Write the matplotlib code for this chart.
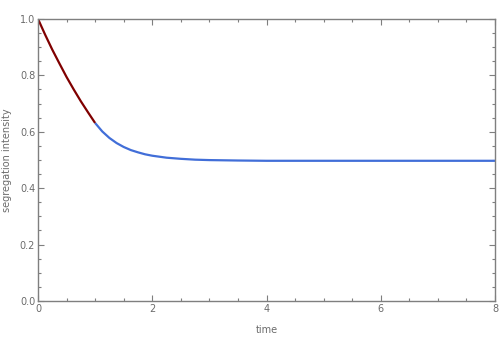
"""
Segregation intensity vs. time
"""

import matplotlib.pyplot as plt
from matplotlib.ticker import MultipleLocator

# Early-time branch
t_early = [0.0, 0.125, 0.25, 0.375, 0.5, 0.625, 0.75, 0.875, 1.0]
s_early = [1.0, 0.944, 0.891, 0.842, 0.794, 0.750, 0.708, 0.669, 0.631]

# Late-time branch
t_late = [1.0, 1.125, 1.25, 1.375, 1.5, 1.625, 1.75, 1.875, 2.0, 2.25, 2.5, 2.75,
          3.0, 3.5, 4.0, 5.0, 6.0, 7.0, 8.0]
s_late = [0.631, 0.601, 0.578, 0.560, 0.546, 0.535, 0.527, 0.520, 0.515, 0.508, 0.504, 0.501,
          0.4995, 0.498, 0.497, 0.497, 0.497, 0.497, 0.497]

frame_c = '#7f7f7f'
text_c = '#6b6b6b'

fig = plt.figure(figsize=(5, 3.5), dpi=100)
ax = fig.add_axes([0.076, 0.14, 0.914, 0.806])

ax.plot(t_late, s_late, color='#416ed8', lw=1.6, solid_capstyle='butt')
ax.plot(t_early, s_early, color='#800000', lw=1.6, solid_capstyle='butt')

ax.set_xlim(0, 8)
ax.set_ylim(0, 1)
ax.xaxis.set_major_locator(MultipleLocator(2))
ax.xaxis.set_minor_locator(MultipleLocator(0.5))
ax.yaxis.set_major_locator(MultipleLocator(0.2))
ax.yaxis.set_minor_locator(MultipleLocator(0.05))
ax.set_xticklabels([f'{v:g}' for v in ax.get_xticks()])
ax.set_yticks([0, 0.2, 0.4, 0.6, 0.8, 1.0])
ax.set_yticklabels(['0.0', '0.2', '0.4', '0.6', '0.8', '1.0'])

ax.tick_params(which='both', direction='in', top=True, right=True, color=frame_c,
               labelcolor=text_c, labelsize=7, width=0.8)
ax.tick_params(which='major', length=4, pad=2)
ax.tick_params(which='minor', length=2)
for sp in ax.spines.values():
    sp.set_color(frame_c)
    sp.set_linewidth(1.0)

ax.set_xlabel('time', fontsize=7, color=text_c, labelpad=8)
ax.set_ylabel('segregation intensity', fontsize=7, color=text_c, labelpad=6)

plt.savefig('out.png', dpi=100)
plt.close()
